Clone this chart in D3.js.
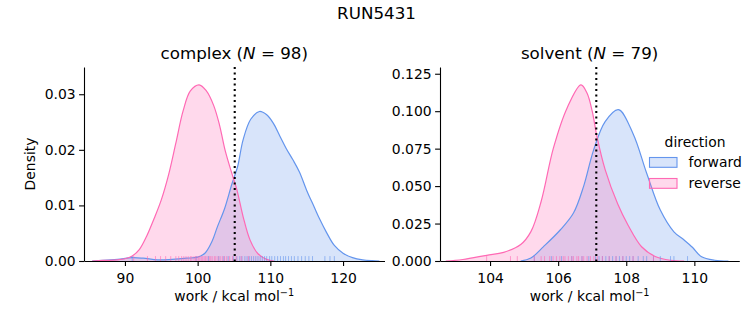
<!DOCTYPE html>
<html><head><meta charset="utf-8">
<script src="https://cdn.jsdelivr.net/npm/d3@7"></script>
<style>
body{margin:0;background:#fff;}
text{font-family:"DejaVu Sans",sans-serif;fill:#000;}
</style></head>
<body><svg id="c" width="753" height="325"></svg>
<script>
// ---------- data ----------
const figTitle = "RUN5431";
const panels = ["complex", "solvent"];
const panelN = [98, 79];
const directions = ["forward", "reverse"];
const colors = ["#6495ED", "#FF69B4"];

// KDE curves: [work, density]
const complexForward = [[85.5,0],[87,0.0001],[89,0.0003],[91,0.0006],[92.5,0.0005],[94.5,0.0002],[96.5,0.0003],[98.5,0.0005],[100,0.0007],[101,0.0014],[102,0.0036],[102.7,0.0061],[103.7,0.0094],[104.7,0.0138],[105.5,0.0170],[106.25,0.0218],[107.3,0.0255],[108.5,0.0269],[109.5,0.0263],[110.4,0.0248],[111.3,0.0225],[112.2,0.0202],[113.1,0.0182],[114,0.0160],[115,0.0127],[116,0.0098],[116.8,0.0075],[117.7,0.0052],[118.8,0.0028],[120,0.0014],[121.3,0.0006],[122.7,0.0002],[124,0.00005],[125,0]];
const complexReverse = [[85.5,0],[87,0.0001],[89,0.0002],[90,0.0004],[91,0.0009],[92,0.0021],[93,0.0045],[94,0.0076],[95,0.0110],[96,0.0155],[97,0.0212],[98,0.0270],[99,0.0306],[100.2,0.0317],[101.2,0.0306],[102.2,0.0280],[103,0.0245],[103.8,0.0198],[104.6,0.0162],[105.4,0.0128],[106.25,0.0080],[107.2,0.0038],[108.3,0.0013],[109.5,0.0003],[110.5,0]];
const solventForward = [[104.9,0],[105.2,0.002],[105.57,0.0096],[106.06,0.0207],[106.45,0.032],[106.75,0.050],[107.04,0.074],[107.38,0.093],[107.77,0.101],[108.2,0.085],[108.6,0.0586],[109.0,0.034],[109.4,0.0195],[109.7,0.014],[109.95,0.009],[110.2,0.003],[110.6,0.0005],[111,0]];
const solventReverse = [[102.7,0],[103.2,0.001],[103.9,0.0038],[104.4,0.0058],[104.9,0.011],[105.2,0.0196],[105.5,0.0397],[105.86,0.0753],[106.26,0.102],[106.67,0.1176],[106.85,0.112],[107.0,0.100],[107.14,0.083],[107.38,0.061],[107.75,0.038],[108.05,0.024],[108.45,0.0095],[108.85,0.003],[109.3,0.0005],[109.7,0]];

// rug samples
const complexForwardRug = [91.0,99.8,101.5,102.9,103.6,104.2,104.9,105.4,105.8,106.1,106.5,106.8,107.1,107.4,107.7,108.0,108.3,108.6,108.9,109.2,109.5,109.9,110.2,110.6,111.0,111.4,111.8,112.1,112.5,112.9,113.3,113.8,114.3,114.8,115.3,115.8,117.5,118.2,118.8];
const complexReverseRug = [91.2,93.1,94.2,94.9,95.6,96.3,97.0,97.4,97.8,98.1,98.4,98.7,99.0,99.2,99.5,99.7,99.9,100.1,100.3,100.5,100.7,100.9,101.1,101.3,101.6,101.8,102.0,102.3,102.5,102.8,103.1,103.4,103.7,104.0,104.4,104.8,105.3,106.0,107.0];
const solventForwardRug = [105.3,105.8,106.1,106.4,106.7,106.9,107.1,107.2,107.3,107.4,107.5,107.6,107.7,107.8,107.9,108.0,108.1,108.2,108.35,108.5,108.6,108.8,109.0,109.3,109.4,109.8];
const solventReverseRug = [103.9,104.6,104.8,105.3,105.5,105.6,105.75,105.85,105.95,106.05,106.15,106.2,106.3,106.4,106.45,106.55,106.6,106.7,106.75,106.85,106.95,107.05,107.15,107.3,107.5,107.7,107.9,108.2,108.8];

const meanLines = [105.1, 107.12];
const xDomains = [[84.37,125.7],[102.53,111.32]];
const yDomains = [[0,0.0349],[0,0.1295]];
const xTicks = [[90,100,110,120],[104,106,108,110]];
const yTicks = [[0,0.01,0.02,0.03],[0,0.025,0.05,0.075,0.1,0.125]];
const yTickFmt = [d3.format(".2f"), d3.format(".3f")];

// ---------- layout ----------
const svg = d3.select("#c");
const boxes = [{x0:84,x1:384.5,y0:67,y1:261},{x0:440,x1:739.3,y0:67,y1:261}];
const curves = [[complexForward, complexReverse],[solventForward, solventReverse]];
const rugs = [[complexForwardRug, complexReverseRug],[solventForwardRug, solventReverseRug]];
const FS = 13.9;

svg.append("text").attr("x",376.5).attr("y",19).attr("text-anchor","middle")
  .style("font-size","16.7px").text(figTitle);

panels.forEach((name,i)=>{
  const b = boxes[i];
  const x = d3.scaleLinear().domain(xDomains[i]).range([b.x0,b.x1]);
  const y = d3.scaleLinear().domain(yDomains[i]).range([b.y1,b.y0]);
  const g = svg.append("g");
  const clipId = "clip"+i;
  svg.append("clipPath").attr("id",clipId).append("rect")
    .attr("x",b.x0).attr("y",b.y0-5).attr("width",b.x1-b.x0).attr("height",b.y1-b.y0+5);
  const plot = g.append("g").attr("clip-path",`url(#${clipId})`);

  const cv = d3.curveCatmullRom.alpha(0.5);
  const area = d3.area().x(d=>x(d[0])).y0(y(0)).y1(d=>y(d[1])).curve(cv);
  const line = d3.line().x(d=>x(d[0])).y(d=>y(d[1])).curve(cv);
  curves[i].forEach((c,k)=>{
    plot.append("path").attr("d",area(c)).attr("fill",colors[k]).attr("fill-opacity",0.25);
  });
  curves[i].forEach((c,k)=>{
    plot.append("path").attr("d",line(c)).attr("fill","none").attr("stroke",colors[k]).attr("stroke-width",1.2);
  });
  // rugs
  rugs[i].forEach((r,k)=>{
    plot.selectAll(null).data(r).enter().append("line")
      .attr("x1",d=>x(d)).attr("x2",d=>x(d)).attr("y1",b.y1).attr("y2",b.y1-4.9)
      .attr("stroke",colors[k]).attr("stroke-width",1).attr("stroke-opacity",0.6);
  });
  // mean dotted line
  g.append("line").attr("x1",x(meanLines[i])).attr("x2",x(meanLines[i]))
    .attr("y1",b.y0).attr("y2",b.y1).attr("stroke","#000").attr("stroke-width",2.1)
    .attr("stroke-dasharray","2.1,3.4");

  // axes
  const xa = g.append("g").attr("transform",`translate(0,${b.y1})`)
    .call(d3.axisBottom(x).tickValues(xTicks[i]).tickSize(4.9).tickPadding(3.5).tickSizeOuter(0));
  const ya = g.append("g").attr("transform",`translate(${b.x0},0)`)
    .call(d3.axisLeft(y).tickValues(yTicks[i]).tickFormat(yTickFmt[i]).tickSize(4.9).tickPadding(3.5).tickSizeOuter(0));
  [xa,ya].forEach(a=>{
    a.select(".domain").attr("stroke","#000").attr("stroke-width",1.1);
    a.selectAll(".tick line").attr("stroke","#000").attr("stroke-width",1.1);
    a.selectAll(".tick text").style("font-size",FS+"px").attr("fill","#000").style("font-family","DejaVu Sans");
  });
  xa.selectAll(".tick text").attr("dy","0.95em");

  // title
  const t = svg.append("text").attr("x",(b.x0+b.x1)/2).attr("y",59).attr("text-anchor","middle").style("font-size","16.7px");
  t.append("tspan").text(name+" (");
  t.append("tspan").style("font-style","italic").text("N");
  t.append("tspan").text(" = "+panelN[i]+")");

  // xlabel
  const xl = svg.append("text").attr("x",(b.x0+b.x1)/2).attr("y",301).attr("text-anchor","middle").style("font-size",FS+"px");
  xl.append("tspan").text("work / kcal mol");
  xl.append("tspan").attr("dy",-5.5).style("font-size","9.7px").text("\u22121");
});

svg.append("text").attr("transform","translate(35,164) rotate(-90)").attr("text-anchor","middle")
  .style("font-size",FS+"px").text("Density");

// legend
const lg = svg.append("g");
lg.append("text").attr("x",695).attr("y",146.5).attr("text-anchor","middle").style("font-size",FS+"px").text("direction");
directions.forEach((d,k)=>{
  const yy = 157.5 + k*21;
  lg.append("rect").attr("x",649.5).attr("y",yy).attr("width",27.5).attr("height",9.8)
    .attr("fill",colors[k]).attr("fill-opacity",0.25).attr("stroke",colors[k]).attr("stroke-width",1.1);
  lg.append("text").attr("x",688.5).attr("y",yy+9.8).style("font-size",FS+"px").text(d);
});
</script></body></html>
